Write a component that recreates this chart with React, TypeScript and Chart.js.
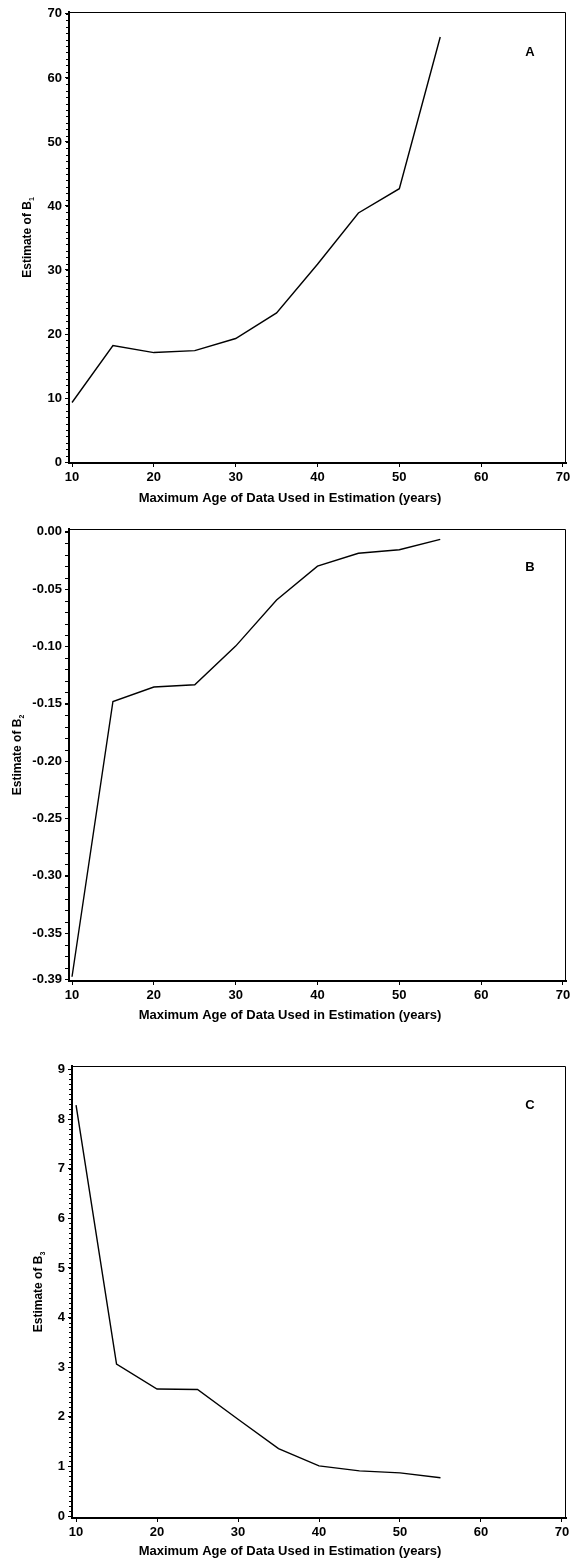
import React, { useEffect, useRef } from 'react';
import { Chart, registerables } from 'chart.js';
Chart.register(...registerables);

const maxAge = [10, 15, 20, 25, 30, 35, 40, 45, 50, 55];
const estimateB1 = [9.3, 18.2, 17.1, 17.4, 19.3, 23.3, 30.9, 38.9, 42.7, 66.4];
const estimateB2 = [-0.388, -0.148, -0.1354, -0.1334, -0.0997, -0.0595, -0.03, -0.0188, -0.0157, -0.0066];
const estimateB3 = [8.28, 3.06, 2.56, 2.55, 1.95, 1.36, 1.01, 0.91, 0.87, 0.77];
const xTickValues = [10, 20, 30, 40, 50, 60, 70];
const yTicksA = [0, 10, 20, 30, 40, 50, 60, 70];
const yTicksB = [0, -0.05, -0.1, -0.15, -0.2, -0.25, -0.3, -0.35, -0.39];
const yTicksC = [0, 1, 2, 3, 4, 5, 6, 7, 8, 9];
const xTitle = 'Maximum Age of Data Used in Estimation (years)';
const yTitleMain = 'Estimate of B';

const FONT = "'Liberation Sans', Arial, Helvetica, sans-serif";

type Panel = {
  height: number;
  top: number;
  right: number;
  yWidth: number;
  xHeight: number;
  xMin: number;
  xMax: number;
  yMin: number;
  yMax: number;
  yTicks: number[];
  decimals: number;
  data: number[];
  minorMin: number;
  minorMax: number;
  minorStep: number;
  minorLen: number;
  sub: string;
  yTitleX: number;
  xTitleY: number;
  letter: string;
  letterX: number;
  letterY: number;
};

const panels: Panel[] = [
  {
    height: 515, top: 12, right: 14, yWidth: 69, xHeight: 52,
    xMin: 9.63, xMax: 70.37, yMin: -0.15, yMax: 70.3,
    yTicks: yTicksA, decimals: 0, data: estimateB1,
    minorMin: 0, minorMax: 70, minorStep: 1, minorLen: 2,
    sub: '1', yTitleX: 27, xTitleY: 498, letter: 'A', letterX: 530, letterY: 52,
  },
  {
    height: 520, top: 14, right: 14, yWidth: 69, xHeight: 54,
    xMin: 9.63, xMax: 70.37, yMin: -0.3917, yMax: 0.0024,
    yTicks: yTicksB, decimals: 2, data: estimateB2,
    minorMin: -0.39, minorMax: 0, minorStep: 0.01, minorLen: 3,
    sub: '2', yTitleX: 17, xTitleY: 500, letter: 'B', letterX: 530, letterY: 52,
  },
  {
    height: 523, top: 31, right: 14, yWidth: 72, xHeight: 40,
    xMin: 9.5, xMax: 70.5, yMin: -0.04, yMax: 9.07,
    yTicks: yTicksC, decimals: 0, data: estimateB3,
    minorMin: 0, minorMax: 9, minorStep: 0.1, minorLen: 2,
    sub: '3', yTitleX: 38, xTitleY: 516, letter: 'C', letterX: 530, letterY: 70,
  },
];

const decorPlugin = {
  id: 'decor',
  afterDraw(chart: any, _args: any, opts: any) {
    const p: Panel = opts.panel;
    const { ctx, chartArea: a, scales } = chart;
    ctx.save();
    ctx.strokeStyle = '#000';
    ctx.fillStyle = '#000';
    ctx.lineWidth = 1;
    // top and right frame
    ctx.beginPath();
    ctx.moveTo(a.left, a.top + 0.5);
    ctx.lineTo(a.right - 0.5, a.top + 0.5);
    ctx.lineTo(a.right - 0.5, a.bottom);
    ctx.stroke();
    // minor ticks on y axis
    const y = scales.y;
    const n = Math.round((p.minorMax - p.minorMin) / p.minorStep);
    for (let i = 0; i <= n; i++) {
      const v = p.minorMin + i * p.minorStep;
      const py = Math.round(y.getPixelForValue(v)) + 0.5;
      ctx.beginPath();
      ctx.moveTo(a.left - 1 - p.minorLen, py);
      ctx.lineTo(a.left, py);
      ctx.stroke();
    }
    // x title
    ctx.font = `bold 13px ${FONT}`;
    ctx.textAlign = 'center';
    ctx.textBaseline = 'middle';
    ctx.fillText(xTitle, 290, p.xTitleY);
    // panel letter
    ctx.fillText(p.letter, p.letterX, p.letterY);
    // y title with subscript
    const cy = (a.top + a.bottom) / 2;
    ctx.translate(p.yTitleX, cy);
    ctx.rotate(-Math.PI / 2);
    ctx.font = `bold 12px ${FONT}`;
    const w1 = ctx.measureText(yTitleMain).width;
    ctx.font = `bold 7px ${FONT}`;
    const w2 = ctx.measureText(p.sub).width;
    const start = -(w1 + w2) / 2;
    ctx.textAlign = 'left';
    ctx.textBaseline = 'alphabetic';
    ctx.font = `bold 12px ${FONT}`;
    ctx.fillText(yTitleMain, start, 4);
    ctx.font = `bold 7px ${FONT}`;
    ctx.fillText(p.sub, start + w1, 7);
    ctx.restore();
  },
};

function PanelChart({ p }: { p: Panel }) {
  const ref = useRef<HTMLCanvasElement | null>(null);
  useEffect(() => {
    if (!ref.current) return;
    const chart = new Chart(ref.current, {
      type: 'line',
      data: {
        datasets: [
          {
            data: maxAge.map((x, i) => ({ x, y: p.data[i] })),
            borderColor: '#000',
            borderWidth: 1.4,
            pointRadius: 0,
            fill: false,
            tension: 0,
          },
        ],
      },
      options: {
        animation: false,
        responsive: false,
        events: [],
        layout: { padding: { left: 0, top: p.top, right: p.right, bottom: 0 } },
        plugins: {
          legend: { display: false },
          tooltip: { enabled: false },
          decor: { panel: p },
        } as any,
        scales: {
          x: {
            type: 'linear',
            min: p.xMin,
            max: p.xMax,
            afterBuildTicks: (s: any) => {
              s.ticks = xTickValues.map((v) => ({ value: v }));
            },
            afterFit: (s: any) => {
              s.height = p.xHeight;
            },
            ticks: {
              autoSkip: false,
              maxRotation: 0,
              padding: 3,
              color: '#000',
              font: { family: FONT, size: 13, weight: 'bold' },
              callback: (v: any) => String(v),
            },
            grid: { drawOnChartArea: false, drawTicks: true, tickLength: 4, color: '#000', tickColor: '#000' },
            border: { display: true, color: '#000', width: 2 },
          },
          y: {
            type: 'linear',
            min: p.yMin,
            max: p.yMax,
            afterBuildTicks: (s: any) => {
              s.ticks = p.yTicks.map((v) => ({ value: v }));
            },
            afterFit: (s: any) => {
              s.width = p.yWidth;
            },
            ticks: {
              autoSkip: false,
              padding: 3,
              color: '#000',
              font: { family: FONT, size: 13, weight: 'bold' },
              callback: (v: any) => Number(v).toFixed(p.decimals),
            },
            grid: { drawOnChartArea: false, drawTicks: true, tickLength: 4, color: '#000', tickColor: '#000' },
            border: { display: true, color: '#000', width: 2 },
          },
        },
      },
      plugins: [decorPlugin],
    } as any);
    return () => chart.destroy();
  }, [p]);
  return (
    <div style={{ width: 580, height: p.height }}>
      <canvas ref={ref} width={580} height={p.height} style={{ display: 'block' }} />
    </div>
  );
}

export default function App() {
  useEffect(() => {
    document.body.style.margin = '0';
  }, []);
  return (
    <div style={{ width: 580, height: 1558, background: '#fff' }}>
      {panels.map((p) => (
        <PanelChart key={p.letter} p={p} />
      ))}
    </div>
  );
}
